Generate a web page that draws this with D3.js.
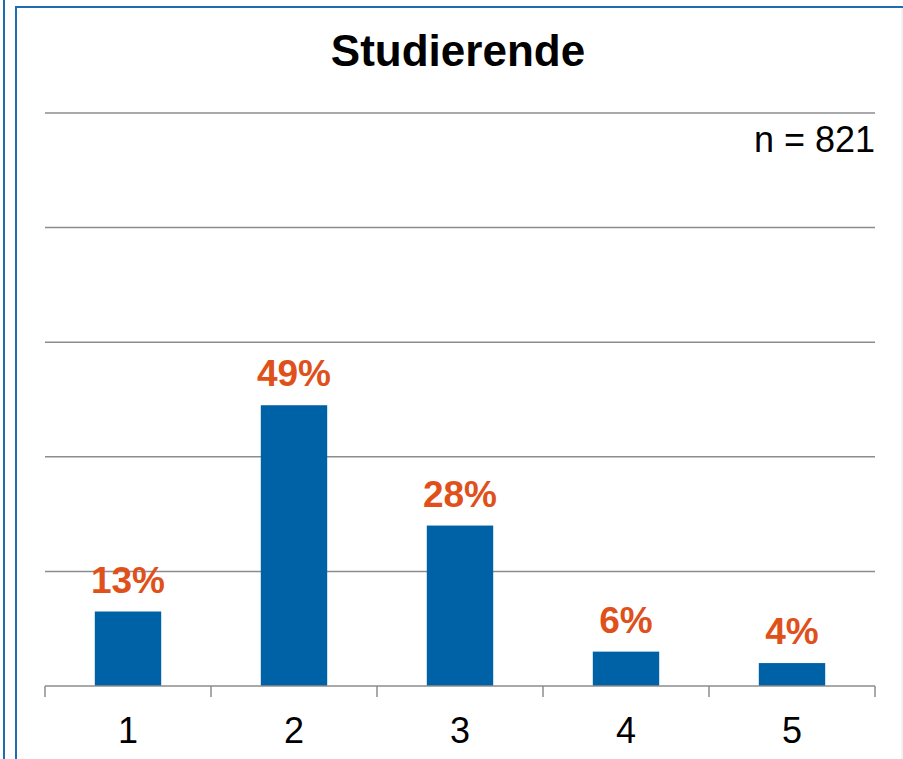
<!DOCTYPE html>
<html>
<head>
<meta charset="utf-8">
<script src="https://cdn.jsdelivr.net/npm/d3@7"></script>
<style>
  body { margin: 0; background: #fff; }
  svg { display: block; font-family: "Liberation Sans", Arial, sans-serif; }
</style>
</head>
<body>
<svg id="chart" width="903" height="759"></svg>
<script>
const categories = ["1", "2", "3", "4", "5"];
const percentages = [13, 49, 28, 6, 4];
const gridValues = [0, 20, 40, 60, 80, 100];
const title = "Studierende";
const sampleNote = "n = 821";

const svg = d3.select("#chart");
const W = 903, H = 759;
const plotLeft = 45, plotRight = 875, plotTop = 113, plotBottom = 686;

// frame lines from the original slide
svg.append("line").attr("x1", 4).attr("x2", 4).attr("y1", 0).attr("y2", H)
  .attr("stroke", "#1f6db0").attr("stroke-width", 2);
svg.append("line").attr("x1", 16).attr("x2", 16).attr("y1", 6).attr("y2", H)
  .attr("stroke", "#1f6db0").attr("stroke-width", 2);
svg.append("line").attr("x1", 15).attr("x2", W).attr("y1", 7).attr("y2", 7)
  .attr("stroke", "#1f6db0").attr("stroke-width", 2);
svg.append("line").attr("x1", 902).attr("x2", 902).attr("y1", 8).attr("y2", H)
  .attr("stroke", "#e6e6e6").attr("stroke-width", 1);

const x = d3.scaleBand()
  .domain(categories)
  .range([plotLeft, plotRight])
  .paddingInner(0.6)
  .paddingOuter(0.3);

const y = d3.scaleLinear().domain([0, 100]).range([plotBottom, plotTop]);

// gridlines
svg.append("g")
  .selectAll("line")
  .data(gridValues.filter(d => d > 0))
  .join("line")
  .attr("x1", plotLeft).attr("x2", plotRight)
  .attr("y1", d => y(d)).attr("y2", d => y(d))
  .attr("stroke", "#8c8c8c").attr("stroke-width", 1.5);

// bars
svg.append("g")
  .selectAll("rect")
  .data(percentages)
  .join("rect")
  .attr("x", (d, i) => x(categories[i]))
  .attr("width", x.bandwidth())
  .attr("y", d => y(d))
  .attr("height", d => y(0) - y(d))
  .attr("fill", "#0062a6");

// value labels
svg.append("g")
  .selectAll("text")
  .data(percentages)
  .join("text")
  .attr("x", (d, i) => x(categories[i]) + x.bandwidth() / 2)
  .attr("y", d => y(d) - 19)
  .attr("text-anchor", "middle")
  .attr("font-size", 37)
  .attr("font-weight", "bold")
  .attr("fill", "#e0501b")
  .text(d => d + "%");

// x axis: baseline, ticks between categories, labels
const step = x.step();
const boundaries = categories.map(c => x(c) - (step - x.bandwidth()) / 2).concat([plotRight]);
const axis = svg.append("g");
axis.append("line")
  .attr("x1", plotLeft).attr("x2", plotRight)
  .attr("y1", plotBottom).attr("y2", plotBottom)
  .attr("stroke", "#8c8c8c").attr("stroke-width", 1.5);
axis.selectAll(".tick")
  .data(boundaries)
  .join("line")
  .attr("class", "tick")
  .attr("x1", d => d).attr("x2", d => d)
  .attr("y1", plotBottom).attr("y2", plotBottom + 11)
  .attr("stroke", "#8c8c8c").attr("stroke-width", 1.5);
axis.selectAll(".lbl")
  .data(categories)
  .join("text")
  .attr("class", "lbl")
  .attr("x", d => x(d) + x.bandwidth() / 2)
  .attr("y", 743)
  .attr("text-anchor", "middle")
  .attr("font-size", 36)
  .attr("fill", "#000")
  .text(d => d);

// title and n
svg.append("text")
  .attr("x", 458).attr("y", 66)
  .attr("text-anchor", "middle")
  .attr("font-size", 44)
  .attr("font-weight", "bold")
  .text(title);

svg.append("text")
  .attr("x", plotRight).attr("y", 152)
  .attr("text-anchor", "end")
  .attr("font-size", 36)
  .text(sampleNote);
</script>
</body>
</html>
